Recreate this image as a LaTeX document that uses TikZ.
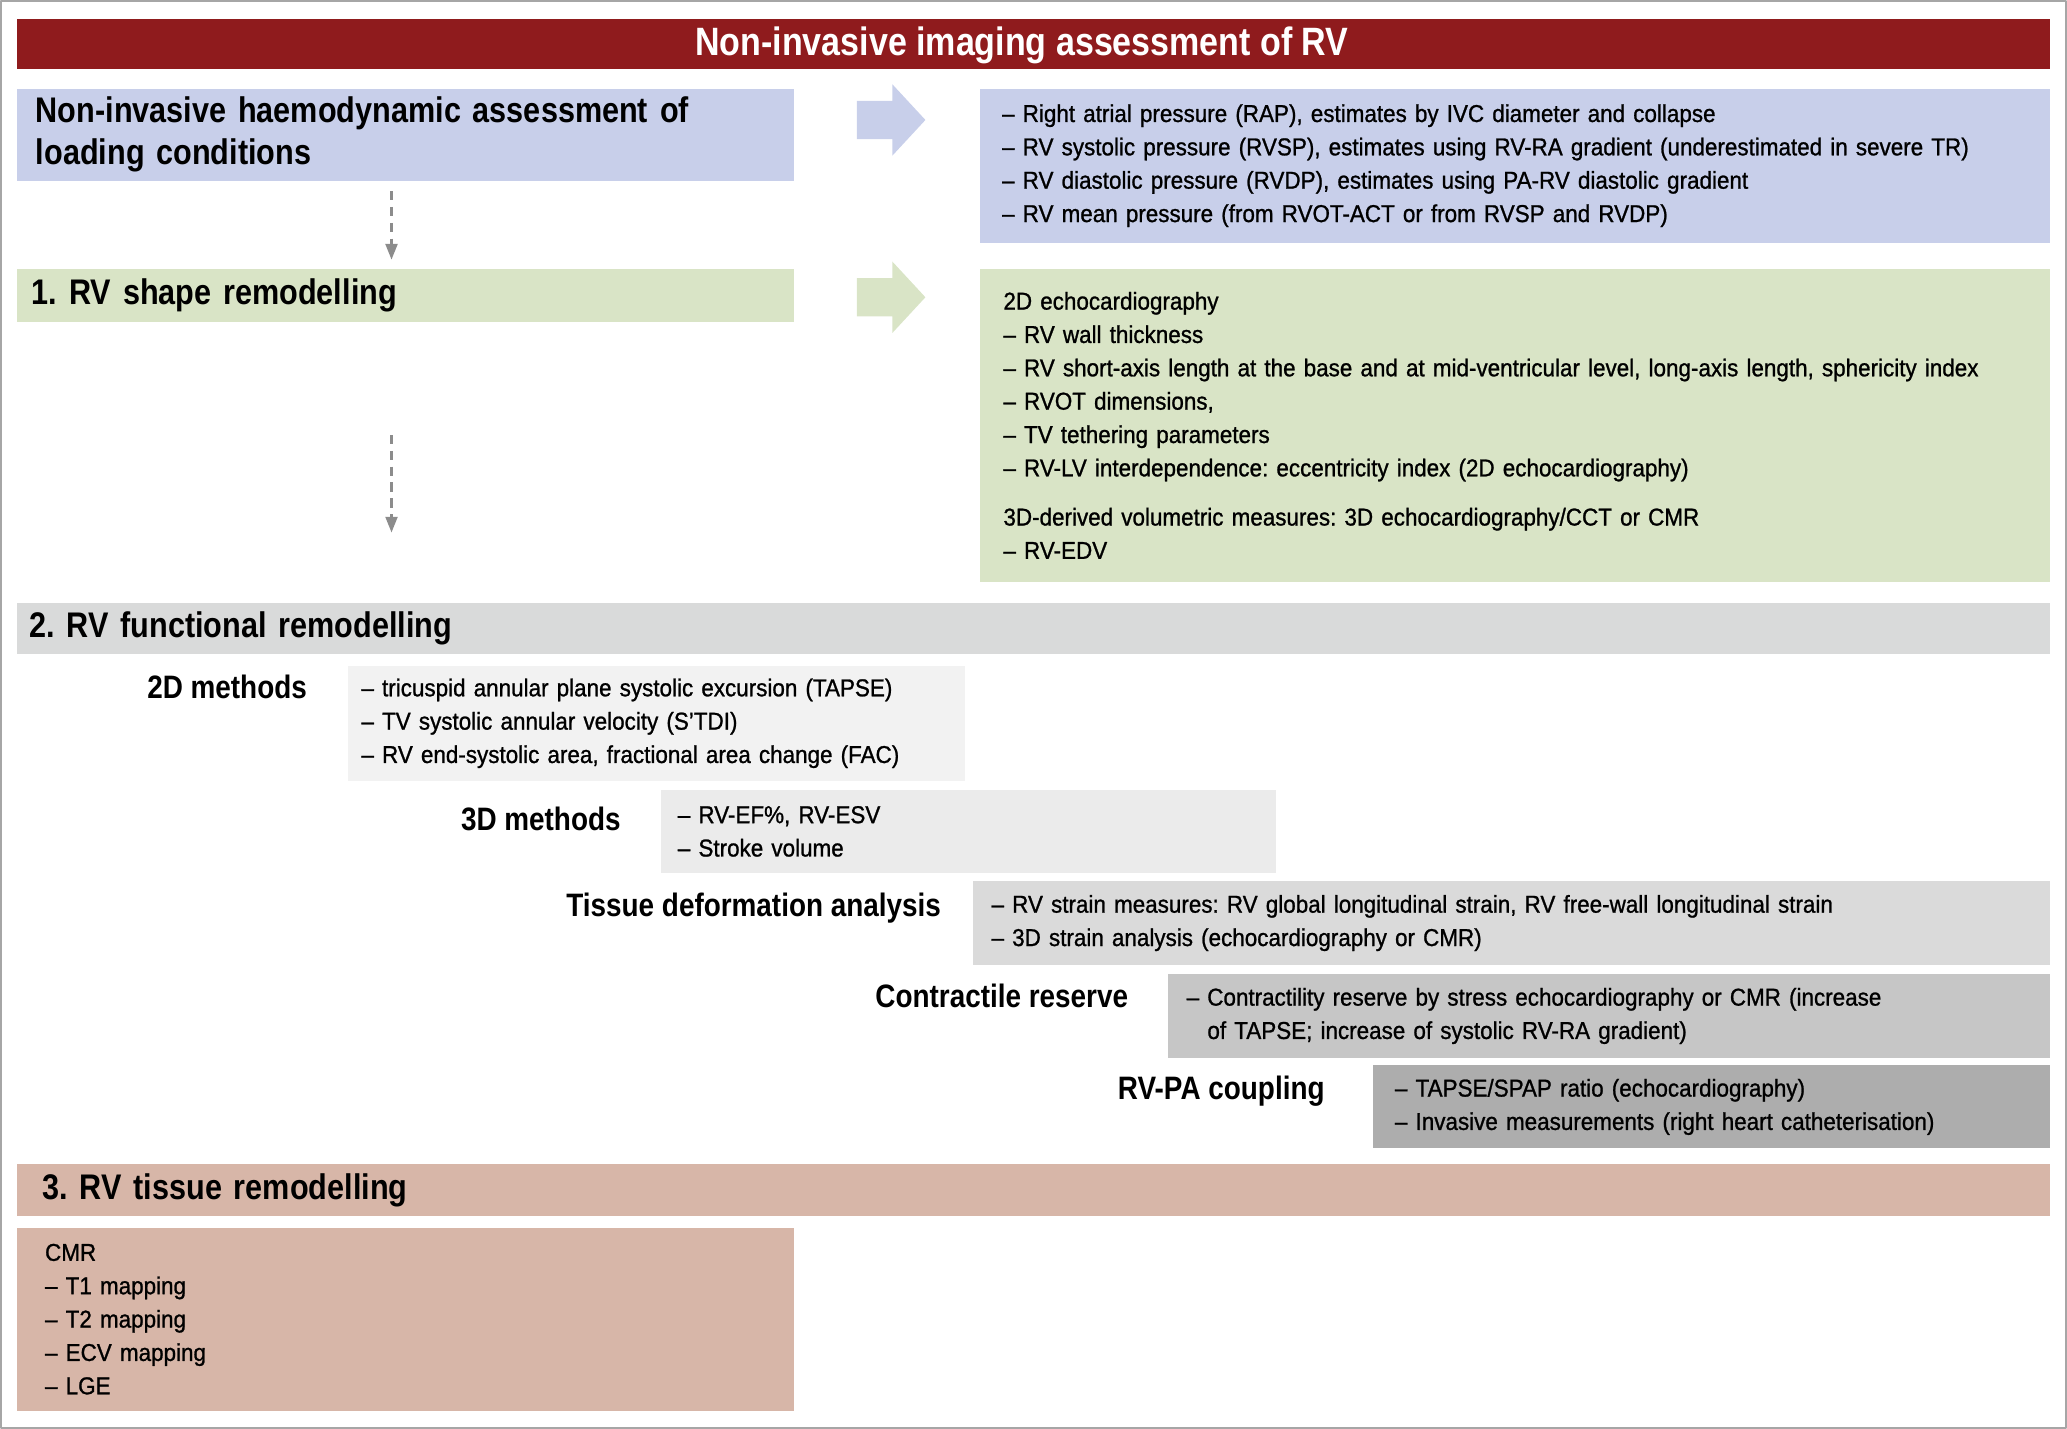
\documentclass[tikz,border=0pt]{standalone}
\usepackage{fontspec}
\setmainfont{Liberation Sans}[FakeStretch=0.86]
\newfontfamily\bodyfont{Liberation Sans}[Ligatures=TeX,FakeStretch=0.92,FakeBold=1]
\usetikzlibrary{arrows.meta,positioning}
\definecolor{titlered}{HTML}{8F1B1D}
\definecolor{bluebox}{HTML}{C8CFEA}
\definecolor{greenbox}{HTML}{D9E4C6}
\definecolor{funcgray}{HTML}{D9DADA}
\definecolor{grayA}{HTML}{F2F2F2}
\definecolor{grayB}{HTML}{EBEBEB}
\definecolor{grayC}{HTML}{DADADA}
\definecolor{grayD}{HTML}{C6C6C6}
\definecolor{grayE}{HTML}{ADADAD}
\definecolor{tissuebox}{HTML}{D7B6A8}
\definecolor{framegray}{HTML}{A6A6A6}
\definecolor{dashgray}{HTML}{8C8C8C}
\begin{document}
\frenchspacing
\begin{tikzpicture}[x=1pt,y=-1pt,line join=round,
	box/.style={fill=#1,draw=none,anchor=north west,inner ysep=0pt,align=left},
	bodytxt/.style={font=\bodyfont\fontsize{18.5}{25.3}\selectfont},
	headtxt/.style={font=\fontsize{27}{32}\selectfont\bfseries},
	lab/.style={anchor=base east,inner sep=0pt,font=\fontsize{24.6}{27}\selectfont\bfseries},
	dasharr/.style={-{Triangle[width=9pt,length=12pt]},dashgray,line width=2pt,dash pattern=on 7pt off 5pt}]
	\useasboundingbox (0,0) rectangle (1568,1084);
	\draw[framegray,line width=1.5pt] (0.75,0.75) rectangle (1567.25,1083.25);
	% title
	\node[box=titlered,minimum width=1542pt,minimum height=38pt] (title) at (13,14) {};
	\node[text=white,font=\fontsize{30}{32}\selectfont\bfseries] (titletxt) at ([xshift=-9pt,yshift=-1pt]title.center) {Non-invasive imaging assessment of RV};
	% loading conditions
	\node[box=bluebox,headtxt,minimum height=70pt,text width=561pt,inner xsep=14pt] (hemo) at (13,67)
		{Non-invasive haemodynamic assessment of\\loading conditions};
	\node[box=bluebox,bodytxt,minimum height=117pt,text width=778pt,inner xsep=17pt] (hemoR) at (743,67)
		{-- Right atrial pressure (RAP), estimates by IVC diameter and collapse\\
		 -- RV systolic pressure (RVSP), estimates using RV-RA gradient (underestimated in severe TR)\\
		 -- RV diastolic pressure (RVDP), estimates using PA-RV diastolic gradient\\
		 -- RV mean pressure (from RVOT-ACT or from RVSP and RVDP)};
	\coordinate (ba1) at (650,91);
	\fill[bluebox] (ba1) ++(0,-14.5) -- ++(27,0) -- ++(0,-12.5) -- ++(25,27) -- ++(-25,27) -- ++(0,-12.5) -- ++(-27,0) -- cycle;
	% shape remodelling
	\node[box=greenbox,headtxt,minimum height=40pt,text width=567pt,inner xsep=11pt] (shape) at (13,204)
		{1. RV shape remodelling};
	\node[box=greenbox,bodytxt,minimum height=237pt,text width=776pt,inner xsep=18pt] (shapeR) at (743,204)
		{2D echocardiography\\
		 -- RV wall thickness\\
		 -- RV short-axis length at the base and at mid-ventricular level, long-axis length, sphericity index\\
		 -- RVOT dimensions,\\
		 -- TV tethering parameters\\
		 -- RV-LV interdependence: eccentricity index (2D echocardiography)\\[12pt]
		 3D-derived volumetric measures: 3D echocardiography/CCT or CMR\\
		 -- RV-EDV};
	\coordinate (ba2) at (650,225.5);
	\fill[greenbox] (ba2) ++(0,-14.5) -- ++(27,0) -- ++(0,-12.5) -- ++(25,27) -- ++(-25,27) -- ++(0,-12.5) -- ++(-27,0) -- cycle;
	\coordinate (d1a) at (297,145);
	\coordinate (d1b) at (297,197);
	\coordinate (d2a) at (297,330);
	\coordinate (d2b) at (297,404);
	\draw[dasharr] (d1a) -- (d1b);
	\draw[dasharr] (d2a) -- (d2b);
	% functional remodelling
	\node[box=funcgray,headtxt,minimum height=39pt,text width=1524pt,inner xsep=9pt] (func) at (13,457)
		{2. RV functional remodelling};
	\node[box=grayA,bodytxt,minimum height=87pt,text width=448pt,inner xsep=10pt] (box2d) at (264,505)
		{-- tricuspid annular plane systolic excursion (TAPSE)\\
		 -- TV systolic annular velocity (S'TDI)\\
		 -- RV end-systolic area, fractional area change (FAC)};
	\node[box=grayB,bodytxt,minimum height=63pt,text width=441pt,inner xsep=13pt] (box3d) at (501,599)
		{-- RV-EF\%, RV-ESV\\
		 -- Stroke volume};
	\node[box=grayC,bodytxt,minimum height=64pt,text width=789pt,inner xsep=14pt] (boxtis) at (738,668)
		{-- RV strain measures: RV global longitudinal strain, RV free-wall longitudinal strain\\
		 -- 3D strain analysis (echocardiography or CMR)};
	\node[box=grayD,bodytxt,minimum height=63pt,text width=641pt,inner xsep=14pt] (boxcon) at (886,739)
		{-- Contractility reserve by stress echocardiography or CMR (increase\\
		 \hspace*{0.85em}of TAPSE; increase of systolic RV-RA gradient)};
	\node[box=grayE,bodytxt,minimum height=63pt,text width=480pt,inner xsep=17pt] (boxpa) at (1041,808)
		{-- TAPSE/SPAP ratio (echocardiography)\\
		 -- Invasive measurements (right heart catheterisation)};
	\node[lab] (l2d) at ([xshift=-31pt,yshift=-25pt]box2d.north west) {2D methods};
	\node[lab] (l3d) at ([xshift=-30pt,yshift=-31pt]box3d.north west) {3D methods};
	\node[lab] (ltis) at ([xshift=-24pt,yshift=-27pt]boxtis.north west) {Tissue deformation analysis};
	\node[lab] (lcon) at ([xshift=-30pt,yshift=-25pt]boxcon.north west) {Contractile reserve};
	\node[lab] (lpa) at ([xshift=-36pt,yshift=-26pt]boxpa.north west) {RV-PA coupling};
	% tissue remodelling
	\node[box=tissuebox,headtxt,minimum height=39pt,text width=1504pt,inner xsep=19pt] (tissue) at (13,883)
		{3. RV tissue remodelling};
	\node[box=tissuebox,bodytxt,minimum height=139pt,text width=547pt,inner xsep=21pt] (tissueR) at (13,931)
		{CMR\\
		 -- T1 mapping\\
		 -- T2 mapping\\
		 -- ECV mapping\\
		 -- LGE};
\end{tikzpicture}
\end{document}
